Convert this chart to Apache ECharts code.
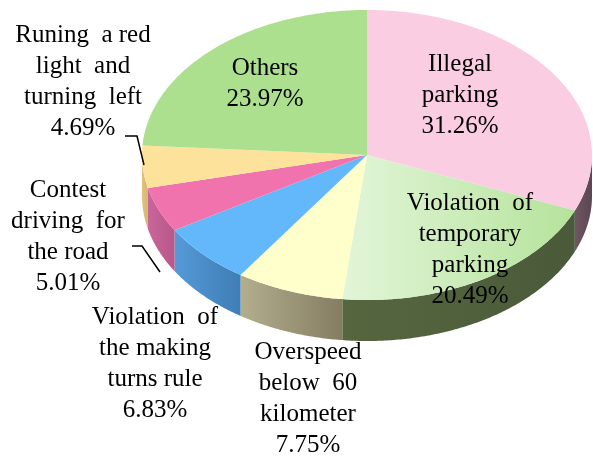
<!DOCTYPE html>
<html>
<head>
<meta charset="utf-8">
<script src="https://cdn.jsdelivr.net/npm/echarts@6/dist/echarts.min.js"></script>
<style>
  html, body { margin: 0; padding: 0; background: #fff; }
  #main { width: 593px; height: 459px; }
</style>
</head>
<body>
<div id="main"></div>
<script>
// data (slices go clockwise from 12 o'clock)
var categories = ['Illegal parking', 'Violation of temporary parking', 'Overspeed below 60 kilometer',
  'Violation of the making turns rule', 'Contest driving for the road',
  'Runing a red light and turning left', 'Others'];
var values = [31.26, 20.49, 7.75, 6.83, 5.01, 4.69, 23.97];
var labelText = [
  'Illegal\nparking',
  'Violation  of\ntemporary\nparking',
  'Overspeed\nbelow  60\nkilometer',
  'Violation  of\nthe making\nturns rule',
  'Contest\ndriving  for\nthe road',
  'Runing  a red\nlight  and\nturning  left',
  'Others'
];

// look
var topColors = ['#fbcde3', ['#e2f5d8', '#b5e39b'], '#ffffcc', '#62b8fb', '#f173ad', '#fde29b', '#acdf8e'];
var sideColors = [['#6e5662', '#5c4652'], ['#56673f', '#4a5a3a'], ['#b3ae8e', '#857d62'],
  ['#559ad8', '#3f7db5'], ['#c9669a', '#b8578a'], ['#e0c27e', '#d6b673'], ['#8fb874', '#7ea565']];
var labelPos = [[460, 95], [470, 250], [308, 399], [155, 364], [68, 237], [83, 82], [265, 84]];

var cx = 367, cy = 155, rx = 225, ry = 145, depth = 41;
var total = values.reduce(function (a, b) { return a + b; }, 0);

function pt(a, dy) {
  return [cx + rx * Math.sin(a), cy - ry * Math.cos(a) + (dy || 0)];
}

function arc(a0, a1, dy) {
  var out = [];
  var n = Math.max(2, Math.ceil(Math.abs(a1 - a0) / 0.01));
  for (var k = 0; k <= n; k++) out.push(pt(a0 + (a1 - a0) * k / n, dy));
  return out;
}

function fill(c, vertical) {
  if (typeof c === 'string') return c;
  return new echarts.graphic.LinearGradient(0, 0, vertical ? 0 : 1, vertical ? 1 : 0, [
    { offset: 0, color: c[0] }, { offset: 1, color: c[1] }
  ]);
}

function renderItem(params, api) {
  var i = params.dataIndex;
  var before = 0;
  for (var j = 0; j < i; j++) before += values[j];
  var a0 = before / total * Math.PI * 2;
  var a1 = (before + api.value(0)) / total * Math.PI * 2;
  var children = [];

  var s0 = Math.max(a0, Math.PI / 2), s1 = Math.min(a1, Math.PI * 1.5);
  if (s1 > s0) {
    var side = arc(s0, s1, 0).concat(arc(s1, s0, depth));
    children.push({
      type: 'polygon',
      shape: { points: side },
      style: { fill: fill(sideColors[i]), stroke: null }
    });
  }
  var top = [[cx, cy]].concat(arc(a0, a1, 0));
  children.push({
    type: 'polygon',
    shape: { points: top },
    style: { fill: fill(topColors[i], false), stroke: null }
  });
  children.push({
    type: 'text',
    x: labelPos[i][0],
    y: labelPos[i][1],
    z2: 100,
    style: {
      text: labelText[i] + '\n' + api.value(0).toFixed(2) + '%',
      font: '25px "Liberation Serif", "Times New Roman", serif',
      fill: '#000',
      align: 'center',
      verticalAlign: 'middle',
      lineHeight: 31
    }
  });
  return { type: 'group', children: children };
}

var chart = echarts.init(document.getElementById('main'), null, { renderer: 'canvas' });
var option = {
  animation: false,
  backgroundColor: '#fff',
  series: [{
    type: 'custom',
    coordinateSystem: 'none',
    renderItem: renderItem,
    data: values.map(function (v, k) { return { name: categories[k], value: [v] }; })
  }],
  graphic: [
    { type: 'polyline', z: 10, shape: { points: [[125, 136], [137, 136], [144, 165]] },
      style: { stroke: '#000', lineWidth: 1.5, fill: null } },
    { type: 'polyline', z: 10, shape: { points: [[132, 246], [142, 246], [160, 272]] },
      style: { stroke: '#000', lineWidth: 1.5, fill: null } }
  ]
};
chart.setOption(option);
</script>
</body>
</html>
